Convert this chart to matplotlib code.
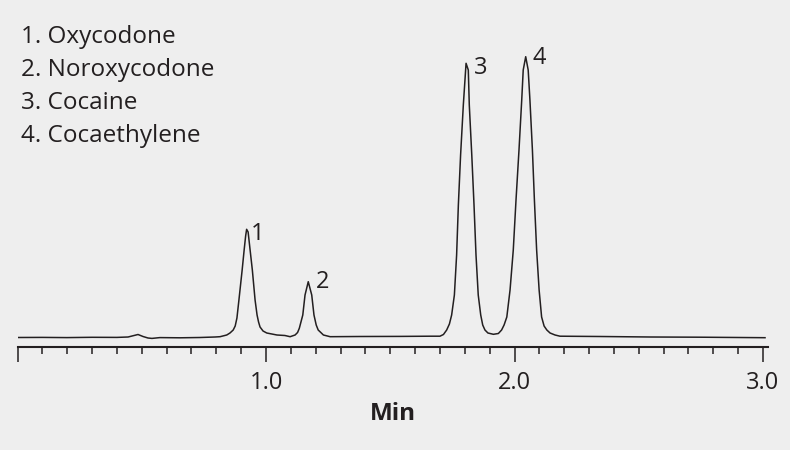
import matplotlib
matplotlib.use('Agg')
import matplotlib.pyplot as plt
from matplotlib.ticker import MultipleLocator, FixedLocator

plt.rcParams['font.family'] = ['Open Sans', 'DejaVu Sans']

# chromatogram trace (time in min, detector response in arbitrary units)
time_min = [0.000, 0.099, 0.199, 0.300, 0.400, 0.445, 0.469, 0.485, 0.505, 0.525,
            0.541, 0.573, 0.654, 0.734, 0.795,
            0.815, 0.842, 0.855, 0.868, 0.876, 0.883, 0.891, 0.904, 0.912, 0.918, 0.922,
            0.928, 0.936, 0.945, 0.956, 0.964, 0.970, 0.976, 0.988, 1.003, 1.044, 1.076,
            1.097, 1.117, 1.127, 1.134, 1.148, 1.157, 1.170, 1.184, 1.193, 1.202, 1.210,
            1.231, 1.258,
            1.378, 1.539, 1.660, 1.700,
            1.714, 1.727, 1.738, 1.747, 1.758, 1.767, 1.774, 1.783, 1.794, 1.805, 1.814,
            1.818, 1.828, 1.837, 1.845, 1.854, 1.864, 1.872, 1.881, 1.893, 1.915, 1.935,
            1.948, 1.958, 1.969, 1.982, 1.995, 2.006, 2.018, 2.029, 2.035, 2.045, 2.055,
            2.062, 2.072, 2.080, 2.089, 2.099, 2.109, 2.119, 2.130, 2.143, 2.163, 2.183,
            2.344, 2.545, 2.746, 3.008]
response = [9.5, 9.6, 9.4, 9.7, 9.6, 10.0, 11.5, 12.5, 10.5, 9.0,
            8.6, 9.4, 9.2, 9.5, 10.0,
            10.3, 12, 14, 17, 21, 29, 47, 77, 97, 111, 117.7,
            115, 97, 77, 47, 32, 25, 20, 16, 14, 12, 11.5,
            10.3, 12, 14.5, 18.7, 32, 52, 65.3, 52, 32, 22, 17,
            12, 10.3,
            10.5, 10.6, 10.8, 10.8,
            12.5, 17, 23, 32, 52, 92, 142, 192, 242, 283.7, 277,
            242, 192, 142, 92, 52, 32, 22, 17, 14, 12.7, 13.5,
            17, 22, 30, 57, 97, 147, 197, 247, 277, 290.3, 277,
            247, 197, 147, 97, 57, 30, 21, 17, 14, 12, 10.8,
            10.5, 10.0, 9.8, 9.3]

compounds = ['Oxycodone', 'Noroxycodone', 'Cocaine', 'Cocaethylene']
peak_label_t = [0.968, 1.229, 1.865, 2.099]
peak_label_y = [113, 65, 279, 289]

major_ticks = [0.0, 1.0, 2.0, 3.0]
major_labels = ['', '1.0', '2.0', '3.0']

bg = '#eeeeee'
ink = '#231f20'

fig = plt.figure(figsize=(7.9, 4.5), dpi=100, facecolor=bg)
ax = fig.add_axes([17.5 / 790, 103 / 450, 750.5 / 790, 330 / 450])
ax.set_facecolor(bg)

ax.plot(time_min, response, color=ink, linewidth=1.1)

ax.set_xlim(0, 3.02)
ax.set_ylim(0, 330)

for side in ['top', 'left', 'right']:
    ax.spines[side].set_visible(False)
ax.spines['bottom'].set_linewidth(1.5)
ax.spines['bottom'].set_color(ink)

ax.xaxis.set_major_locator(FixedLocator(major_ticks))
ax.set_xticklabels(major_labels)
ax.xaxis.set_minor_locator(MultipleLocator(0.1))
ax.tick_params(axis='x', which='major', direction='out', length=11, width=1.1,
               color=ink, labelsize=17, labelcolor=ink, pad=6)
ax.tick_params(axis='x', which='minor', direction='out', length=5.2, width=1.1, color=ink)
ax.set_yticks([])

ax.set_xlabel('Min', fontsize=17.5, fontweight='bold', color=ink, labelpad=5)

# peak numbers next to each apex
for i in range(len(compounds)):
    ax.text(peak_label_t[i], peak_label_y[i], str(i + 1), fontsize=17, color=ink,
            ha='center', va='center')

# compound list in the top left corner
for i, name in enumerate(compounds):
    fig.text(21 / 790, 1 - (37 + 33 * i) / 450, '%d. %s' % (i + 1, name),
             fontsize=17.5, color=ink, ha='left', va='center')

plt.savefig('out.png', dpi=100, facecolor=bg)
